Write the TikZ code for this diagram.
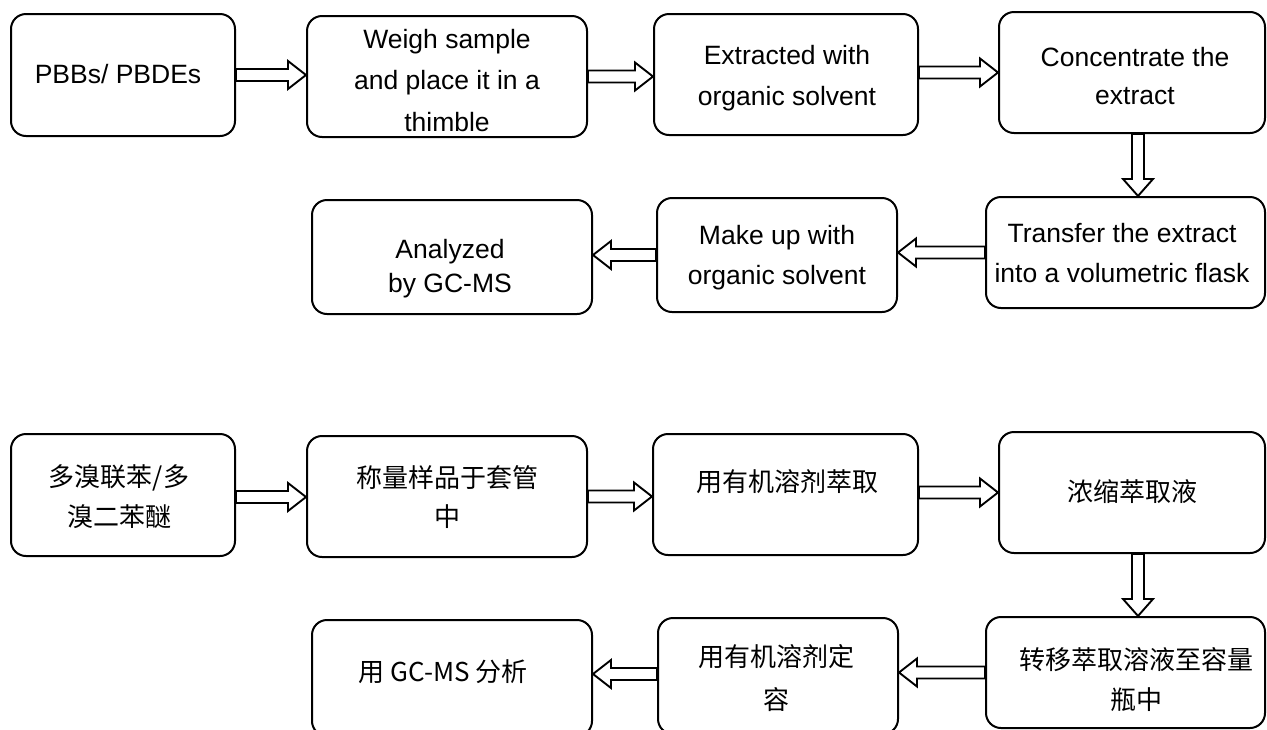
\documentclass[tikz,border=0pt]{standalone}
\usepackage{fontspec}
\setmainfont{Liberation Sans}
\newfontfamily\cjk{Noto Sans CJK SC}
\usetikzlibrary{calc}
\tikzset{
  box/.style={draw, line width=2pt, rounded corners=15pt, inner sep=0pt, fill=white},
  en/.style={align=center, inner sep=0pt, font=\fontsize{26.5pt}{#1}\selectfont},
  en/.default=32pt,
  cn/.style={align=center, inner sep=0pt, font=\cjk\fontsize{26pt}{#1}\selectfont},
  cn/.default=32pt,
  barrow/.style={draw, line width=1.9pt, fill=white, line join=miter}
}
\newcommand\rarrow[2]{\draw[barrow] let \p1=(#1), \p2=(#2) in
  (\x1,\y1+6pt) -- (\x2-18pt,\y1+6pt) -- (\x2-18pt,\y1+14pt) -- (\x2,\y1) --
  (\x2-18pt,\y1-14pt) -- (\x2-18pt,\y1-6pt) -- (\x1,\y1-6pt) -- cycle;}
\newcommand\larrow[2]{\draw[barrow] let \p1=(#1), \p2=(#2) in
  (\x1,\y1+6pt) -- (\x2+18pt,\y1+6pt) -- (\x2+18pt,\y1+14pt) -- (\x2,\y1) --
  (\x2+18pt,\y1-14pt) -- (\x2+18pt,\y1-6pt) -- (\x1,\y1-6pt) -- cycle;}
\newcommand\darrow[2]{\draw[barrow] let \p1=(#1), \p2=(#2) in
  (\x1+6pt,\y1) -- (\x1+6pt,\y2+17pt) -- (\x1+15pt,\y2+17pt) -- (\x1,\y2) --
  (\x1-15pt,\y2+17pt) -- (\x1-6pt,\y2+17pt) -- (\x1-6pt,\y1) -- cycle;}
\begin{document}
\begin{tikzpicture}[x=1pt, y=-1pt]
\useasboundingbox (0,0) rectangle (1267,729);
\clip (0,0) rectangle (1267,729);
% ---------- English flow ----------
\node[box, minimum width=224pt, minimum height=122pt] (t1) at (123,75) {};
\node[box, minimum width=280pt, minimum height=121pt] (t2) at (447,76.5) {};
\node[box, minimum width=264pt, minimum height=121pt] (t3) at (786,74.5) {};
\node[box, minimum width=266pt, minimum height=121pt] (t4) at (1132,72.5) {};
\node[box, minimum width=279pt, minimum height=111pt] (t5) at (1125.5,252.5) {};
\node[box, minimum width=240pt, minimum height=114pt] (t6) at (777,255) {};
\node[box, minimum width=280pt, minimum height=114pt] (t7) at (452,257) {};

\node[en] (t1l) at (118,74) {PBBs/ PBDEs};
\node[en=41.5pt] (t2l) at (447,80.5) {Weigh sample\\and place it in a\\thimble};
\node[en=41pt] (t3l) at (787,78) {Extracted with\\organic solvent};
\node[en=38pt] (t4l) at (1135,76.5) {Concentrate the\\extract};
\node[en=40pt] (t5l) at (1122,253.5) {Transfer the extract\\into a volumetric flask};
\node[en=40pt] (t6l) at (777,257.5) {Make up with\\organic solvent};
\node[en=34pt] (t7l) at (450,269) {Analyzed\\by GC-MS};

\rarrow{t1.east}{t2.west}
\rarrow{t2.east}{t3.west}
\rarrow{[yshift=2pt]t3.east}{t4.west}
\darrow{[xshift=6pt]t4.south}{t5.north}
\larrow{t5.west}{t6.east}
\larrow{t6.west}{t7.east}

% ---------- Chinese flow ----------
\node[box, minimum width=224pt, minimum height=122pt] (b1) at (123,495) {};
\node[box, minimum width=280pt, minimum height=121pt] (b2) at (447,496.5) {};
\node[box, minimum width=265pt, minimum height=121pt] (b3) at (785.5,494.5) {};
\node[box, minimum width=266pt, minimum height=121pt] (b4) at (1132,492.5) {};
\node[box, minimum width=279pt, minimum height=111pt] (b5) at (1125.5,672.5) {};
\node[box, minimum width=240pt, minimum height=116pt] (b6) at (778,676) {};
\node[box, minimum width=280pt, minimum height=116pt] (b7) at (452,678) {};

\node[cn=40pt] (b1l) at (119,497) {多溴联苯/多\\溴二苯醚};
\node[cn=39pt] (b2l) at (447,497.5) {称量样品于套管\\中};
\node[cn] (b3l) at (787,482) {用有机溶剂萃取};
\node[cn] (b4l) at (1132,492) {浓缩萃取液};
\node[cn=40pt] (b5l) at (1136,680) {转移萃取溶液至容量\\瓶中};
\node[cn=43pt] (b6l) at (776,678.5) {用有机溶剂定\\容};
\node[cn] (b7l) at (443,672) {用 GC-MS 分析};

\rarrow{[yshift=-2pt]b1.east}{b2.west}
\rarrow{b2.east}{b3.west}
\rarrow{[yshift=2pt]b3.east}{b4.west}
\darrow{[xshift=6pt]b4.south}{b5.north}
\larrow{b5.west}{b6.east}
\larrow{[yshift=2pt]b6.west}{b7.east}
\end{tikzpicture}
\end{document}
